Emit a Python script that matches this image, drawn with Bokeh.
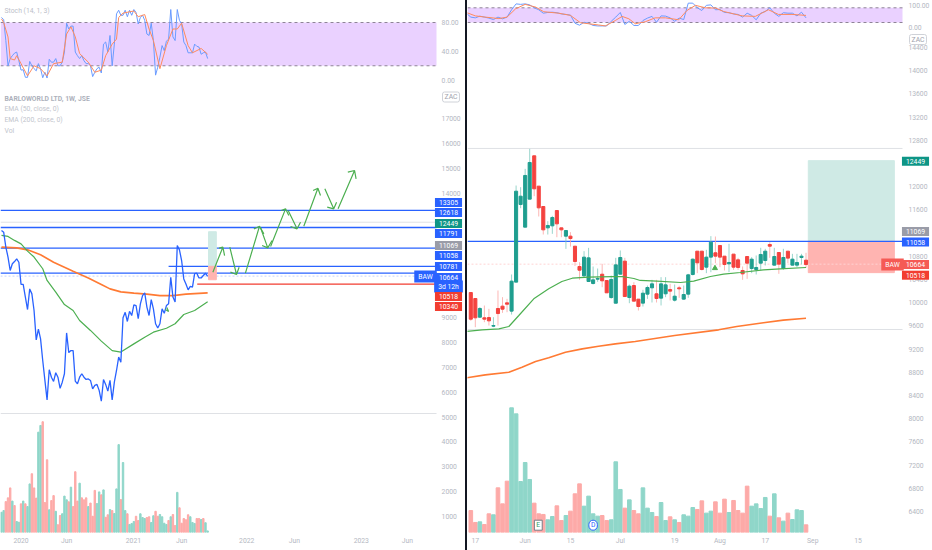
from bokeh.embed import file_html
from bokeh.resources import INLINE
from bokeh.plotting import figure
from bokeh.layouts import row, column
from bokeh.models import Range1d, Label, FixedTicker, Div

# ---------- left panel: weekly ----------
L_CLOSE = [12500,12430,11830,11430,10890,11160,11250,11360,11220,10330,10330,9820,9320,10150,9950,9280,8100,8530,8140,7270,
           6470,5690,6900,6600,6430,6780,6600,6150,6400,6740,8380,7590,7670,7670,6440,6330,6600,6740,6600,6510,
           6530,6470,6130,6270,6310,6070,5640,6510,6310,6040,6470,5690,6400,6870,7410,7200,8990,9210,8840,9250,
           9080,9510,9480,8950,9550,9880,9990,9420,9080,9720,9350,8750,8580,8750,9350,9170,9480,9550,10620,9820,
           9620,11890,11720,11290,10550,10350,10110,10250,10220,10760,10780,10590,10590,10690,10780,10650]
L_EMA50_W = [0,3,6,9,12,15,19,21,25,29,33,36,41,46,51,55,61,66,70,76,80,84,89,95]
L_EMA50 = [12300,12260,12100,11960,11670,11430,10960,10490,10020,9520,9280,8880,8480,8050,7670,7610,7940,8210,8410,8570,8750,9120,9280,9630]
L_EMA200_W = [0,7,12,18,24,29,33,40,46,50,55,61,67,73,79,85,95]
L_EMA200 = [11830,11800,11720,11520,11220,11020,10860,10590,10330,10150,10030,9980,9940,9880,9880,9940,9990]
L_VOL = [1170,1240,1600,1750,2150,1620,1440,800,770,1510,1620,1510,1400,2310,2720,2150,1740,4390,4660,4810,
         1560,3280,1270,1640,1840,1210,670,1040,1110,1820,1670,1590,2180,1400,2800,1620,2340,1750,1670,1750,
         1400,1540,1010,2050,1520,1990,1870,2070,970,1070,1280,1240,1120,2110,3890,1680,3170,1240,1110,680,
         720,800,1010,840,1110,960,920,960,990,760,1030,1210,1010,1080,990,730,680,840,990,1080,
         640,1970,1350,730,920,870,1070,990,760,720,920,920,880,920,750,420]
L_VOL_DIR = "ttrrrtrttrtrttrrrttrrrtrrtrrtttrtrrrtrrrtrrrttrtrrtrtttrttrtttrrtttrrttrrttttrtrrtrrrrrtttrrtrtt"
L_K = [87,84,55,20,30,34,37.5,39,27,14,14.5,4,4,26,20,16,13,23,16,3.4,11,3,29,25,25,30,20,20,25,39,
       79,71,75,75,39,34,30,34,27,23,23,20,5,11,16,18,10,50,53,39,62,20,50,92,97,90,90,97,88,97,
       90,98,94,78,87,90,83,64,62,79,55,7,18,32,48,41,54,57,98,60,55,98,83,78,53,48,38,38,38,50,
       47,46,36,38,39,30]
L_D_W = [0,1,3,4,6,7,9,12,15,18,21,24,28,30,32,34,36,40,43,46,48,51,53,54,56,61,63,66,68,70,73,76,79,81,83,86,88,92,95]
L_D = [85,80,60,30,28,34,23,6,20,16,6,23,25,64,74,60,37,25,11,14,34,50,57,87,93,96,88,91,71,55,16,48,71,71,79,48,38,44,36]
L_LEVELS_FULL = [13305,12618,11791,10781]
L_LEVEL_GREY = [12830,5141]
L_TICKS = [9,30,60.8,83,113,135,165.8,187]
L_TICK_TEXT = ["2020","Jun","2021","Jun","2022","Jun","2023","Jun"]
L_ARROW_X = [[97.4,102,100.2,102,102.8],[105.2,108.3,105.5,108.3,109.5],[112.4,118.9,116.3,118.9,120.9],
             [119.3,122.7,120.1,122.7,124.7],[124,130.9,128.9,130.9,132.4],[132.1,136.2,133.2,136.2,137.8],
             [139.3,145.8,143.6,145.8,147],[149,153.1,150.1,153.1,154.4],[155.1,162.7,159.6,162.7,163.4],
             [75.5,77,76.2]]
L_ARROW_Y = [[10822,11827,11787,11827,11492],[11827,10728,10822,10728,11023],[10782,12671,12564,12671,12363],
             [12631,11800,11894,11800,12095],[11854,13368,13301,13368,13100],[13301,12564,12658,12564,12832],
             [12671,14199,14105,14199,13904],[14172,13368,13435,13368,13636],[13368,14909,14842,14909,14574],
             [9320,9240,9400]]

# ---------- right panel: daily ----------
R_OPEN = [10175,10072,9750,9739,9744,9595,9900,9940,9997,9854,10354,11693,11302,11785,12532,12009,11658,11290,11325,11589,
          11290,11147,11147,10974,10624,10463,10365,10331,10405,10491,10382,10089,9991,10491,10716,10089,10296,
          10061,9992,10147,10256,10153,10078,10153,10227,10043,10256,10061,10147,10486,10888,10888,10612,10785,10860,10986,10802,
          10670,10837,10739,10555,10796,10589,10572,10681,10727,11003,10647,10865,10589,10888,10647,10647,10779,10733]
R_CLOSE = [9716,9739,9900,9716,9687,9606,9813,9888,9974,10371,11922,11836,12193,12417,11963,11635,11256,11331,11468,11359,
           11256,11244,11106,10710,10560,10785,10773,10394,10417,10377,10170,10400,10652,10779,10106,10285,10026,
           9934,10164,10262,10325,10072,10325,10308,10199,10112,10239,10141,10480,10750,10687,10572,10785,11043,10802,10785,10658,
           10693,10612,10607,10497,10681,10750,10607,10831,10888,10974,10796,10664,10779,10768,10750,10693,10802,10658]
R_HIGH = [10175,10072,9923,9951,9894,9750,10210,10095,10066,10486,12020,11991,12307,12652,12532,12009,11658,11405,11497,11589,
          11290,11244,11216,10974,10698,10888,10945,10624,10589,10670,10382,10468,10773,10900,10773,10313,10354,
          10061,10222,10296,10394,10394,10440,10440,10325,10314,10291,10296,10497,10762,10888,10888,10911,11147,11141,10986,10802,
          11015,10837,10773,10624,10796,10785,10814,10946,10929,11043,10946,10865,10929,10888,10842,10842,10842,10860]
R_LOW = [9687,9578,9739,9664,9606,9578,9606,9825,9836,9796,10354,11629,11302,11785,11836,11486,11175,11175,11187,11129,
         11129,10928,10968,10635,10394,10428,10365,10313,10359,10267,10170,10066,9991,10491,10106,9991,10026,
         9865,9934,10066,10003,10003,9952,10095,10038,10020,10084,10049,10084,10469,10509,10555,10509,10526,10681,10612,10555,
         10526,10566,10566,10394,10411,10509,10486,10555,10641,10773,10641,10497,10566,10681,10641,10612,10658,10601]
R_VOL = [6417,6211,6222,6176,6360,6343,6808,6532,6923,8188,8084,6917,7245,6952,6544,6360,6349,6257,6314,6498,
         6245,6331,6406,6705,6877,6492,6665,6360,6320,6331,6245,6257,7257,6780,6458,6601,6417,6360,6808,6458,
         6383,6314,6555,6245,6308,6257,6211,6343,6320,6469,6435,6584,6372,6406,6567,6372,6613,6383,6590,6417,
         6372,6837,6492,6532,6452,6642,6320,6705,6291,6234,6372,6262,6429,6417,6170]
R_EMA50_D = [-1,2.5,6.2,8.4,10.6,13.9,17.2,20.1,22.4,26,31.2,33.4,36,37.4,41.1,46.3,49.2,52.9,55.8,59.5,64.6,68.3,74]
R_EMA50 = [9503,9532,9549,9589,9779,10066,10239,10365,10422,10440,10451,10451,10417,10383,10371,10348,10371,10452,10492,10520,10566,10584,10607]
R_EMA200_D = [-1,3.2,8.4,11.3,14.3,17.2,20.9,24.6,28.2,31.9,36.3,45,54.7,58.7,64.6,69,74]
R_EMA200 = [8704,8756,8802,8888,8986,9049,9147,9204,9250,9290,9330,9434,9532,9589,9653,9699,9733]
R_K = [58,42,39,46,42,38,32,42,35,42,72,96,94,96,92,80,72,58,61,62,60,55,53,50,17,9,21,17,8,6,6,6,25,42,61,12,25,8,8,28,
       38,45,21,47,46,39,25,38,32,99,99,80,69,90,92,72,73,61,60,55,53,42,58,49,31,58,65,80,58,45,60,58,58,47,62,39]
R_D_D = [-1,1,3.2,6.2,8,9.9,12,14.3,16.1,19.4,22,24.2,28.2,29.7,31.9,33.4,34.9,36.3,38.5,40.7,43,45.9,47.7,49.6,51.8,54,55.8,59.9,62.8,65.7,67.9,70.9,74]
R_D = [61,47,42,36,42,76,94,83,64,58,49,19,10,6,28,45,35,15,23,39,39,31,69,90,80,79,65,47,45,72,53,53,49]
R_TICKS = [1,12,22,33,45,55,65,75.5,85.5]
R_TICK_TEXT = ["17","Jun","15","Jul","19","Aug","17","Sep","15"]
L_Y_TICKS = [1000,2000,3000,4000,5000,6000,7000,8000,9000,14000,15000,16000,17000]
R_Y_TICKS = [6400,6800,7200,7600,8000,8400,8800,9200,9600,10000,10400,10800,11600,12000,12800,13200,13600,14000,14400]

FONT = "Roboto"
AX = "#b4b8c2"; FS = "6.8px"
BLUE = "#2962ff"; GREEN = "#4caf50"; ORANGE = "#ff7a33"
T_BAR = "#8fd6c9"; R_BAR = "#fdaaa8"; T_C = "#1f9e8f"; R_C = "#f4433f"
BAND = "#ead1ff"; DASH = "#8e8496"; GREY = "#dfe1e5"


def pane(h, xr, yr, bottom, xaxis=False):
    p = figure(width=465, height=h, x_range=xr, y_range=yr, output_backend="svg", toolbar_location=None,
               y_axis_location="right", x_axis_location="below" if xaxis else None,
               min_border_left=0, min_border_top=0, min_border_bottom=bottom, min_border_right=0,
               outline_line_color=None, background_fill_color="white", border_fill_color="white")
    p.grid.visible = False
    return p


def style(ax):
    ax.axis_line_color = None
    ax.major_tick_line_color = None
    ax.minor_tick_line_color = None
    ax.major_tick_out = 0
    ax.major_tick_in = 0
    ax.major_label_text_color = AX
    ax.major_label_text_font = FONT
    ax.major_label_text_font_size = FS


def yaxis(p, loc, ticks, fmt):
    ax = p.yaxis[0]
    ax.fixed_location = loc
    ax.ticker = FixedTicker(ticks=ticks)
    ax.major_label_overrides = {t: fmt(t) for t in ticks}
    ax.major_label_standoff = 0
    style(ax)


def text(p, x, y, s, color="#bcc0c9", style_="normal", align="left"):
    p.add_layout(Label(x=x, y=y, x_units="screen", y_units="screen", text=s, text_color=color,
                       text_font=FONT, text_font_size=FS, text_font_style=style_,
                       text_baseline="middle", text_align=align))


def tag(p, x, y, s, color):
    p.add_layout(Label(x=x, y=y, x_units="screen", y_units="screen", text=s, text_color="white",
                       text_font=FONT, text_font_size=FS, text_baseline="middle", text_align="center",
                       background_fill_color=color, padding=dict(x=4, y=2), level="overlay"))


def zac(p, x, y):
    p.add_layout(Label(x=x, y=y, x_units="screen", y_units="screen", text="ZAC", text_color="#9ea2ac",
                       text_font=FONT, text_font_size=FS, text_baseline="middle", text_align="center",
                       background_fill_color="white", border_line_color="#cfd2d8", border_radius=2,
                       padding=dict(x=2, y=1), level="overlay"))


def band(p, x0, x1):
    p.varea(x=[x0, x1], y1=[20, 20], y2=[80, 80], color=BAND)
    for lv in (20, 80):
        p.line([x0, x1], [lv, lv], line_color=DASH, line_dash=[3, 3], line_width=1)


# ---------- left ----------
LX = (-0.461, 213.82)
L_END = 200.46
L_AX = 202.8
lw = list(range(len(L_CLOSE)))
ls = pane(88, Range1d(*LX), Range1d(-11.5, 110.5), 0)
band(ls, LX[0], L_END)
ls.line(lw, L_K, line_color="#6a9bff", line_width=1)
ls.line(L_D_W, L_D, line_color="#ff8a5c", line_width=1)
yaxis(ls, L_AX, [0, 40, 80], lambda t: f"{t}.00")
text(ls, 4, 78, "Stoch (14, 1, 3)")

LY0 = 357
lm = pane(462, Range1d(*LX), Range1d(LY0, 18206), 18, xaxis=True)
style(lm.xaxis[0])
for lv in L_LEVEL_GREY:
    lm.line([LX[0], L_END], [lv, lv], line_color=GREY, line_width=1)
lm.line([LX[0], L_END], [10664, 10664], line_color="#c5d3ff", line_dash=[2, 2], line_width=1)
for lv in L_LEVELS_FULL:
    lm.line([LX[0], L_END], [lv, lv], line_color=BLUE, line_width=1.3)
lm.line([77, L_END], [11058, 11058], line_color=BLUE, line_width=1.3)
lm.line([90.2, L_END], [10340, 10340], line_color="#f23d30", line_width=1.3)
lm.quad(left=[95.4], right=[99], bottom=[11058], top=[12449], color="#cfeae5")
lm.quad(left=[95.4], right=[99], bottom=[10518], top=[11058], color="#ffb4b1")
lm.vbar(x=lw, width=0.65, bottom=LY0, top=L_VOL,
        color=[T_BAR if d == "t" else R_BAR for d in L_VOL_DIR])
lm.line(L_EMA200_W, L_EMA200, line_color=ORANGE, line_width=1.6)
lm.line(L_EMA50_W, L_EMA50, line_color=GREEN, line_width=1.2)
lm.line(lw, L_CLOSE, line_color=BLUE, line_width=1.3)
lm.multi_line(L_ARROW_X, L_ARROW_Y, line_color=GREEN, line_width=1.2)
lm.xaxis.ticker = FixedTicker(ticks=L_TICKS)
lm.xaxis.major_label_overrides = dict(zip(L_TICKS, L_TICK_TEXT))
lm.xaxis.major_label_standoff = 4
yaxis(lm, L_AX, L_Y_TICKS, str)
LB = 532
for s, yy in (("BARLOWORLD LTD, 1W, JSE", 98), ("EMA (50, close, 0)", 108.5), ("EMA (200, close, 0)", 119), ("Vol", 130)):
    bold = s.startswith("BARLO")
    text(lm, 4, LB - yy, s, color="#adb1bb" if bold else "#c2c5cd", style_="bold" if bold else "normal")
zac(lm, 450.5, LB - 96.5)
for s, yy, col in (("13305", 202, BLUE), ("12618", 212, BLUE), ("12449", 223, "#0e9586"), ("11791", 233, BLUE),
                   ("11069", 245, "#9a9ca8"), ("11058", 255, BLUE), ("10781", 266, BLUE), ("10664", 277, BLUE),
                   ("3d 12h", 286, BLUE), ("10518", 296, "#f23d30"), ("10340", 306, "#f23d30")):
    tag(lm, 448, LB - yy, s, col)
tag(lm, 425, LB - 276, "BAW", BLUE)

# ---------- right ----------
RX = (-0.728, 101.92)
R_END = 95.3
R_AX = 96.6
rd = list(range(-1, 75))
rj = list(range(len(R_OPEN)))
rs = pane(32, Range1d(*RX), Range1d(-20.8, 109.8), 0)
band(rs, RX[0], R_END)
rs.line(rd, R_K, line_color="#6a9bff", line_width=1)
rs.line(R_D_D, R_D, line_color="#ff8a5c", line_width=1)
yaxis(rs, R_AX, [0], lambda t: f"{t}.00")
text(rs, 441, 27, "100.00", color=AX)

RY0 = 6038
rm = pane(518, Range1d(*RX), Range1d(RY0, 14658), 18, xaxis=True)
style(rm.xaxis[0])
rm.quad(left=[74.5], right=[93.5], bottom=[11058], top=[12449], color="#cfeae5")
rm.quad(left=[74.5], right=[93.5], bottom=[10518], top=[11058], color="#ffb4b1")
for lv in (12659, 9538):
    rm.line([RX[0], R_END], [lv, lv], line_color=GREY, line_width=1)
rm.line([RX[0], R_END], [10664, 10664], line_color="#ffd4d4", line_dash=[2, 2], line_width=1)
rm.line([RX[0], R_END], [11058, 11058], line_color=BLUE, line_width=1.3)
up = [c >= o for o, c in zip(R_OPEN, R_CLOSE)]
rm.vbar(x=rj, width=0.8, bottom=RY0, top=R_VOL, color=[T_BAR if u else R_BAR for u in up])
rm.line(R_EMA200_D, R_EMA200, line_color=ORANGE, line_width=1.6)
rm.segment(x0=rj, x1=rj, y0=R_LOW, y1=R_HIGH, line_width=0.8,
           color=["#7fcabf" if u else "#fba5a2" for u in up])
rm.vbar(x=rj, width=0.68, bottom=R_OPEN, top=R_CLOSE, color=[T_C if u else R_C for u in up])
rm.line(R_EMA50_D, R_EMA50, line_color=GREEN, line_width=1.2)
rm.scatter([53.9], [10595], marker="triangle", size=5, color=GREEN)
rm.xaxis.ticker = FixedTicker(ticks=R_TICKS)
rm.xaxis.major_label_overrides = dict(zip(R_TICKS, R_TICK_TEXT))
rm.xaxis.major_label_standoff = 4
yaxis(rm, R_AX, R_Y_TICKS, str)
rm.add_layout(Label(x=14.9, y=6164, text="E", text_font=FONT, text_font_size=FS, text_color="#2e9e6b",
                    text_align="center", text_baseline="middle", background_fill_color="white",
                    border_line_color="#787b86", padding=dict(x=2, y=1)))
rm.add_layout(Label(x=27, y=6164, text="D", text_font=FONT, text_font_size=FS, text_color=BLUE,
                    text_align="center", text_baseline="middle", background_fill_color="white",
                    border_line_color=BLUE, border_radius=5, padding=dict(x=2, y=1)))
RB = 532
zac(rm, 450.5, RB - 39)
for s, yy, col in (("12449", 160.7, "#0e9586"), ("11069", 231, "#9a9ca8"), ("11058", 241.5, BLUE),
                   ("10664", 264, "#f55a55"), ("10518", 274.7, "#f23d30")):
    tag(rm, 448, RB - yy, s, col)
tag(rm, 425, RB - 264, "BAW", "#f55a55")

left = column(ls, lm, spacing=0)
right = column(rs, rm, spacing=0)
divider = Div(text="", width=2, height=550, styles={"background": "#131722"}, margin=(0, 0, 0, 0))
page = row(left, divider, right, spacing=0)
open("out.html", "w").write(file_html(page, INLINE))
